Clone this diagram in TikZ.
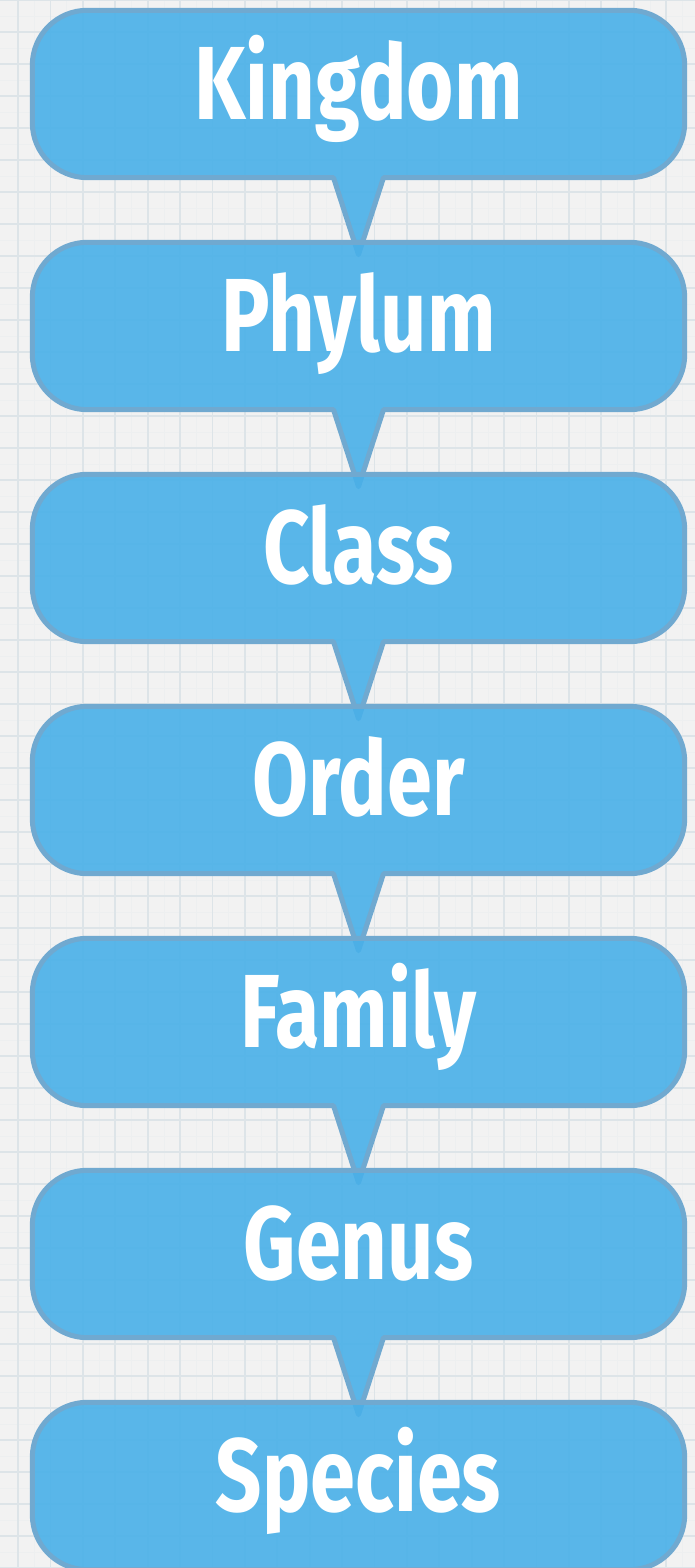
\documentclass[tikz,border=0pt]{standalone}
\usepackage{fontspec}
\newfontfamily\lblfont{Fira Sans}[FakeStretch=0.78]
\usetikzlibrary{calc}
\definecolor{paper}{HTML}{F2F2F2}
\definecolor{gridline}{HTML}{DDE4E8}
\definecolor{gridminor}{HTML}{EDEFF0}
\definecolor{boxfill}{HTML}{49B0E9}
\definecolor{boxedge}{HTML}{70A9D0}
\pgfdeclarelayer{bg}
\pgfdeclarelayer{boxes}
\pgfsetlayers{bg,boxes,main}
\begin{document}
\begin{tikzpicture}[x=1pt,y=1pt,
  lbl/.style={minimum width=652pt, minimum height=167pt, inner sep=0pt,
    text=white, font=\lblfont\bfseries\fontsize{104pt}{110pt}\selectfont,
    text height=52pt, text depth=0pt},
  callout/.style={fill=boxfill, fill opacity=0.9, draw=boxedge, line width=5pt, line join=round}]
\useasboundingbox (0,0) rectangle (695,1568);
\begin{pgfonlayer}{bg}
  \fill[paper] (0,0) rectangle (695,1568);
  \foreach \i in {0,...,21} \draw[gridminor, line width=0.6pt] ({34.2+32.4*\i},0) -- ++(0,1568);
  \foreach \j in {0,...,49} \draw[gridminor, line width=0.6pt] (0,{1552-32*\j}) -- ++(695,0);
  \foreach \i in {0,...,21} \draw[gridline, line width=1.8pt] ({18+32.4*\i},0) -- ++(0,1568);
  \foreach \j in {0,...,49} \draw[gridline, line width=1.8pt] (0,{1568-32*\j}) -- ++(695,0);
\end{pgfonlayer}
\node[lbl] (kingdom) at (358.5,1474) {Kingdom};
\node[lbl] (phylum)  at (358.5,1242) {Phylum};
\node[lbl] (class)   at (358.5,1010) {Class};
\node[lbl] (order)   at (358.5,778)  {Order};
\node[lbl] (family)  at (358.5,546)  {Family};
\node[lbl] (genus)   at (358.5,314)  {Genus};
\node[lbl] (species) at (358.5,82)   {Species};
\begin{pgfonlayer}{boxes}
  \foreach \n in {kingdom,phylum,class,order,family,genus}
    \draw[callout] ($(\n.south)+(25,0)$) -- ($(\n.south east)+(-55,0)$)
      arc[start angle=-90,end angle=0,radius=55pt]
      -- ($(\n.north east)+(0,-55)$) arc[start angle=0,end angle=90,radius=55pt]
      -- ($(\n.north west)+(55,0)$) arc[start angle=90,end angle=180,radius=55pt]
      -- ($(\n.south west)+(0,55)$) arc[start angle=180,end angle=270,radius=55pt]
      -- ($(\n.south)+(-25,0)$) -- ($(\n.south)+(0,-77)$) -- cycle;
  \draw[callout, rounded corners=55pt] (species.south west) rectangle (species.north east);
\end{pgfonlayer}
\end{tikzpicture}
\end{document}
